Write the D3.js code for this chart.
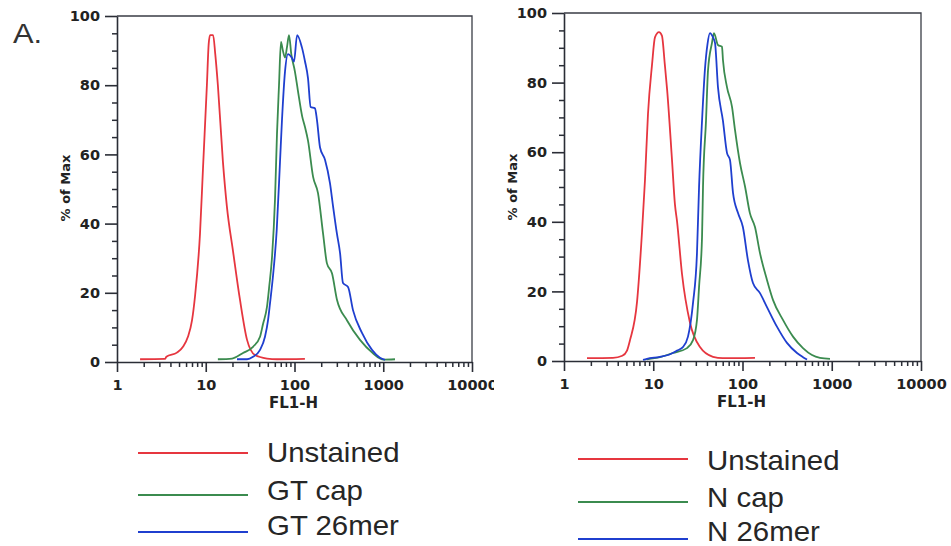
<!DOCTYPE html>
<html>
<head>
<meta charset="utf-8">
<script src="https://cdn.jsdelivr.net/npm/d3@7"></script>
<style>
  html, body { margin: 0; padding: 0; background: #ffffff; }
  svg { display: block; }
  .tick text { font-family: "DejaVu Sans", sans-serif; font-weight: bold; font-size: 14.5px; fill: #222; }
</style>
</head>
<body>
<svg id="chart" width="951" height="546"></svg>
<script>
// Flow cytometry histograms: FL1-H intensity (log) vs % of Max
// Each series is a list of [FL1-H, % of Max] pairs.

// Panel 1: GT constructs
const gtUnstained = [[1.82,0.8],[3.47,0.9],[3.6,1.5],[4.74,2.7],[5.54,4.4],[6.3,7.3],[7.0,12],[7.57,19],[8.61,37],[9.31,56],[10.3,80],[10.8,92],[11.2,94.5],[12.1,94.5],[12.8,89],[13.7,80],[15.6,58],[17.3,45],[20.3,32],[24.3,18],[29.2,6.4],[35.9,2],[49,1],[63.5,0.8],[131,0.9]];
const gtCap = [[13.7,0.8],[19.8,1],[26.3,2.6],[34.1,4.4],[40.9,7.3],[44.2,11],[49,16],[52,22],[55.7,30],[60.3,47],[63.5,66],[66.9,80],[70.4,92.5],[74,90],[78.2,88],[82.3,91],[86.7,94.5],[92,89],[101,84],[109,78.6],[122,71],[131,68],[142,64],[162,53.5],[184,48.8],[210,37],[232,28.5],[265,25.6],[301,18],[391,12],[547,6.4],[767,2.5],[919,1],[1000,0.7],[1356,0.8]];
const gt26mer = [[22.5,0.8],[29.2,0.8],[34.1,1.5],[40.9,3.5],[46.5,7.3],[50.3,12],[53,17],[57.3,25],[63,38],[68.7,58],[72.3,70],[78.2,84],[84.5,89],[93,88],[98.7,86.8],[107,94.5],[121,91],[131,87],[142,82],[152,73.7],[170,73.3],[179,70],[194,62],[221,58.4],[251,51.7],[272,45],[301,37],[326,31.5],[352,22.8],[401,21.7],[456,15],[576,8.4],[747,3.5],[919,1.2],[1047,0.6]];

// Panel 2: N constructs
const nUnstained = [[1.81,0.8],[3.54,0.9],[4.5,1.5],[5.08,3],[5.49,6],[6.58,17],[7.48,37],[8.08,52],[8.73,71],[9.68,85],[10.45,93],[11.6,94.5],[12.5,93.5],[13.5,85],[14.3,78],[16.2,58],[17.5,45],[18.5,40],[21.0,25],[25.8,11],[33.4,4],[46.7,1.2],[60,0.8],[138,0.9]];
const nCap = [[8.5,0.5],[11.9,1.1],[16.6,2.3],[23.9,3.7],[27.9,6],[30.9,11.8],[32.6,21.3],[35.2,35.6],[36.1,50],[39.0,69],[41.1,83.6],[45.5,91.4],[47.9,94.2],[53.1,90.8],[58.9,90.3],[60.4,86.5],[67,78.7],[76.3,73],[82.4,66.4],[93.7,56.9],[107,50],[121,42.5],[138,38.5],[157,31],[188,23.3],[220,17.5],[284,11.8],[368,7],[476,3.7],[601,1.7],[738,0.9],[956,0.6]];
const n26mer = [[7.68,0.3],[8.5,0.6],[11.9,1.2],[15,1.8],[18.5,3],[21.5,4],[24.5,7],[27.9,16.7],[30.9,31],[32.6,50],[35.2,69],[38.0,84],[40.5,91],[43.2,94.2],[46.7,93],[49.2,91.4],[53.1,78.7],[60.4,69],[67,59.8],[72.4,57.8],[78.3,48.3],[89.1,42.5],[101,38.5],[115,29],[131,22.4],[157,19.5],[188,15.5],[244,9.8],[315,5.2],[408,2.3],[476,1.1],[528,0.4]];

// Axis ticks and labels
const xMajorTicks = [1, 10, 100, 1000, 10000];
const xMinorTicks = [1, 10, 100, 1000].flatMap(d => [2,3,4,5,6,7,8,9].map(m => m * d));
const yMajorTicks = [0, 20, 40, 60, 80, 100];
const yMinorTicks = d3.range(0, 101, 5).filter(v => v % 20 !== 0);
const xAxisTitle = "FL1-H";
const yAxisTitle = "% of Max";
const panelLetter = "A.";

const leftLegend = ["Unstained", "GT cap", "GT 26mer"];
const rightLegend = ["Unstained", "N cap", "N 26mer"];
const seriesColors = ["#e6363f", "#3b8b4f", "#1f3fcf"];

const svg = d3.select("#chart");
svg.append("rect").attr("width", 951).attr("height", 546).attr("fill", "#ffffff");

const axisColor = "#2a2d36";

function drawPanel(cfg) {
  const root = svg.append("g");
  if (cfg.clipRight) {
    svg.append("defs").append("clipPath").attr("id", cfg.id + "-clip")
      .append("rect").attr("x", 0).attr("y", 0).attr("width", cfg.clipRight).attr("height", 546);
    root.attr("clip-path", `url(#${cfg.id}-clip)`);
  }

  const x = d3.scaleLog().domain([1, 10000]).range([cfg.left, cfg.right]);
  const y = d3.scaleLinear().domain([0, 100]).range([cfg.bottom, cfg.top]);

  // frame (top and right)
  root.append("path")
    .attr("d", `M${cfg.left},${cfg.top}H${cfg.right}V${cfg.bottom}`)
    .attr("fill", "none").attr("stroke", "#3a3d46").attr("stroke-width", 1.3);

  // minor ticks
  const xMinor = root.append("g").attr("transform", `translate(0,${cfg.bottom})`)
    .call(d3.axisBottom(x).tickValues(xMinorTicks).tickSize(5).tickFormat(""));
  const yMinor = root.append("g").attr("transform", `translate(${cfg.left},0)`)
    .call(d3.axisLeft(y).tickValues(yMinorTicks).tickSize(5).tickFormat(""));
  [xMinor, yMinor].forEach(g => {
    g.select(".domain").remove();
    g.selectAll("line").attr("stroke", axisColor).attr("stroke-width", 1.5);
  });

  // major axes
  const xAxis = root.append("g").attr("transform", `translate(0,${cfg.bottom})`)
    .call(d3.axisBottom(x).tickValues(xMajorTicks).tickSize(10).tickSizeOuter(0)
      .tickPadding(8).tickFormat(d3.format("d")));
  const yAxis = root.append("g").attr("transform", `translate(${cfg.left},0)`)
    .call(d3.axisLeft(y).tickValues(yMajorTicks).tickSize(12).tickSizeOuter(0)
      .tickPadding(5));
  [xAxis, yAxis].forEach(g => {
    g.select(".domain").attr("stroke", axisColor).attr("stroke-width", 1.6);
    g.selectAll("line").attr("stroke", axisColor).attr("stroke-width", 1.6);
    g.selectAll("text").attr("fill", "#222");
  });

  // axis titles
  root.append("text")
    .attr("x", (cfg.left + cfg.right) / 2 - 1).attr("y", cfg.bottom + 46)
    .attr("text-anchor", "middle")
    .style("font-family", "DejaVu Sans, sans-serif").style("font-weight", "bold")
    .style("font-size", "15px").attr("fill", "#222")
    .text(xAxisTitle);
  root.append("text")
    .attr("transform", `translate(${cfg.ylabX},${cfg.ylabY}) rotate(-90)`)
    .attr("text-anchor", "middle")
    .style("font-family", "DejaVu Sans, sans-serif").style("font-weight", "bold")
    .style("font-size", "13px").attr("fill", "#222")
    .text(yAxisTitle);

  // histogram curves
  const line = d3.line()
    .x(d => x(d[0])).y(d => y(d[1]))
    .curve(d3.curveMonotoneX);
  cfg.series.forEach((s, i) => {
    root.append("path").datum(s)
      .attr("d", line)
      .attr("fill", "none")
      .attr("stroke", seriesColors[i])
      .attr("stroke-width", 1.8)
      .attr("stroke-linejoin", "round");
  });

  // legend
  const lg = svg.append("g");
  cfg.legend.forEach((name, i) => {
    lg.append("line")
      .attr("x1", cfg.legX1).attr("x2", cfg.legX2)
      .attr("y1", cfg.legLineY[i]).attr("y2", cfg.legLineY[i])
      .attr("stroke", seriesColors[i]).attr("stroke-width", 2.2);
    lg.append("text")
      .attr("transform", `translate(${cfg.legTextX},${cfg.legTextY[i]}) scale(1.09,1)`)
      .style("font-family", "Liberation Sans, Arial, sans-serif")
      .style("font-size", "27px").attr("fill", "#262626")
      .text(name);
  });
}

drawPanel({
  id: "gt", left: 117, right: 472, top: 16, bottom: 362, clipRight: 494,
  ylabX: 70, ylabY: 188,
  series: [gtUnstained, gtCap, gt26mer], legend: leftLegend,
  legX1: 138, legX2: 248, legLineY: [453, 495, 532], legTextX: 267, legTextY: [462, 500, 535]
});

drawPanel({
  id: "n", left: 564, right: 921, top: 13, bottom: 361,
  ylabX: 517, ylabY: 187,
  series: [nUnstained, nCap, n26mer], legend: rightLegend,
  legX1: 578, legX2: 688, legLineY: [459, 502, 539], legTextX: 707, legTextY: [470, 507, 541]
});

svg.append("text")
  .attr("transform", "translate(13,43) scale(1.1,1)")
  .style("font-family", "Liberation Sans, Arial, sans-serif")
  .style("font-size", "28px").attr("fill", "#333")
  .text(panelLetter);
</script>
</body>
</html>
